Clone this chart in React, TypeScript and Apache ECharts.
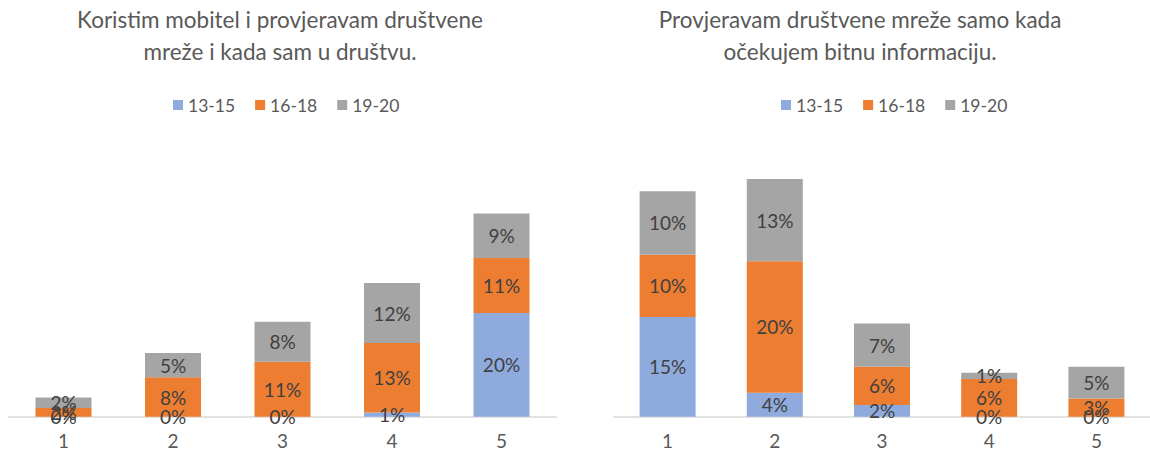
import React, { useEffect, useRef } from "react";
import * as echarts from "echarts";

const categories = ["1", "2", "3", "4", "5"];
const seriesNames = ["13-15", "16-18", "19-20"];
const leftTitle = "Koristim mobitel i provjeravam društvene\nmreže i kada sam u društvu.";
const rightTitle = "Provjeravam društvene mreže samo kada\nočekujem bitnu informaciju.";

const left1315 = [0, 0, 0, 0.8, 20.0];
const left1618 = [1.7, 7.6, 10.6, 13.4, 10.6];
const left1920 = [2.0, 4.7, 7.7, 11.6, 8.6];

const right1315 = [15.4, 3.7, 1.8, 0, 0];
const right1618 = [9.6, 20.3, 5.9, 5.8, 2.8];
const right1920 = [9.8, 12.7, 6.7, 1.0, 4.9];

const colors = ["#8FAADC", "#ED7D31", "#A5A5A5"];
const FONT = "Lato, 'Open Sans', sans-serif";

export default function App() {
  const ref = useRef<HTMLDivElement>(null);
  useEffect(() => {
    if (!ref.current) return;
    const chart = echarts.init(ref.current, null, { renderer: "svg" });
    const label = {
      show: true,
      position: "inside",
      fontSize: 19,
      color: "#404040",
      fontFamily: FONT,
      formatter: (p: any) => Math.round(p.value) + "%",
    };
    const mk = (name: string, data: number[], idx: number, gi: number) => ({
      name,
      type: "bar",
      stack: "s" + gi,
      xAxisIndex: gi,
      yAxisIndex: gi,
      data,
      barWidth: 56,
      itemStyle: { color: colors[idx] },
      label,
    });
    const xAxis = (gi: number) => ({
      type: "category",
      gridIndex: gi,
      data: categories,
      axisTick: { show: false },
      axisLine: { lineStyle: { color: "#D9D9D9", width: 1.5 } },
      axisLabel: { fontSize: 19, color: "#595959", margin: 14, fontFamily: FONT },
    });
    const yAxis = (gi: number, max: number) => ({
      type: "value",
      gridIndex: gi,
      min: 0,
      max,
      show: false,
      splitLine: { show: false },
    });
    const legend = (left: number) => ({
      left,
      top: 91,
      icon: "rect",
      itemWidth: 10,
      itemHeight: 10,
      itemGap: 20,
      data: seriesNames,
      textStyle: { fontSize: 17.5, color: "#595959", fontFamily: FONT },
    });
    chart.setOption({
      animation: false,
      backgroundColor: "#ffffff",
      legend: [legend(168), legend(776)],
      grid: [
        { left: 8.75, right: 593.75, top: 157.5, bottom: 40.3 },
        { left: 614, right: -12, top: 157.5, bottom: 40.3 },
      ],
      xAxis: [xAxis(0), xAxis(1)],
      yAxis: [yAxis(0, 50), yAxis(1, 40)],
      graphic: [
        {
          type: "text",
          x: 280,
          y: 3,
          style: {
            text: leftTitle,
            textAlign: "center",
            fontSize: 22.5,
            lineHeight: 32,
            fill: "#595959",
            fontFamily: FONT,
          },
        },
        {
          type: "text",
          x: 860,
          y: 3,
          style: {
            text: rightTitle,
            textAlign: "center",
            fontSize: 22.5,
            lineHeight: 32,
            fill: "#595959",
            fontFamily: FONT,
          },
        },
      ],
      series: [
        mk(seriesNames[0], left1315, 0, 0),
        mk(seriesNames[1], left1618, 1, 0),
        mk(seriesNames[2], left1920, 2, 0),
        mk(seriesNames[0], right1315, 0, 1),
        mk(seriesNames[1], right1618, 1, 1),
        mk(seriesNames[2], right1920, 2, 1),
      ],
    });
    return () => chart.dispose();
  }, []);
  return (
    <div
      ref={ref}
      style={{ position: "absolute", left: 0, top: 0, width: 1150, height: 457 }}
    />
  );
}
